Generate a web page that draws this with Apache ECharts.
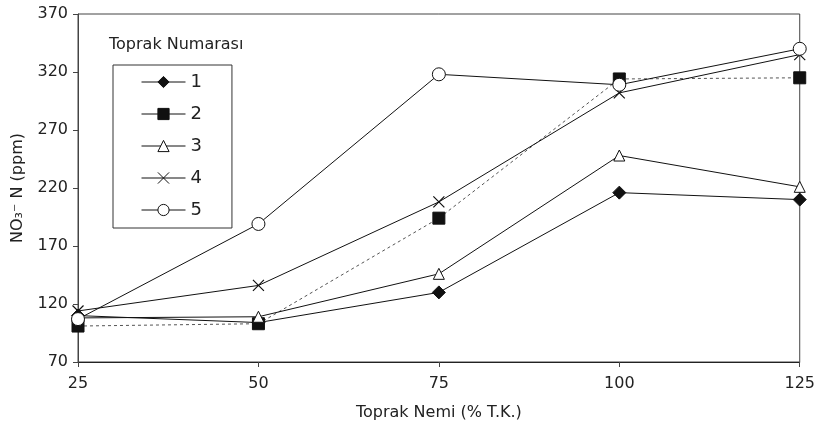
<!DOCTYPE html>
<html>
<head>
<meta charset="utf-8">
<script src="https://cdn.jsdelivr.net/npm/echarts@6/dist/echarts.min.js"></script>
<style>
  html, body { margin: 0; padding: 0; background: #fff; }
  #chart { width: 818px; height: 432px; }
</style>
</head>
<body>
<div id="chart"></div>
<script>
var nemi = [25, 50, 75, 100, 125];
var toprak1 = [110, 104, 130, 216, 210];
var toprak2 = [101, 103, 194, 314, 315];
var toprak3 = [108, 109, 146, 248, 221];
var toprak4 = [114, 136, 208, 302, 335];
var toprak5 = [107, 189, 318, 309, 340];
var names = ['1', '2', '3', '4', '5'];

var chartDom = document.getElementById('chart');
var chart = echarts.init(chartDom);
var font = 'DejaVu Sans';

function pairs(vals) {
    return vals.map(function (v, i) { return [nemi[i], v]; });
}

function line(name, vals, symbol, size, opts) {
    var s = {
        name: name,
        type: 'line',
        data: pairs(vals),
        symbol: symbol,
        symbolSize: size,
        showAllSymbol: true,
        animation: false,
        lineStyle: { color: '#111', width: 1 },
        itemStyle: { color: '#111', borderColor: '#111', borderWidth: 1 }
    };
    return Object.assign(s, opts || {});
}

var hollow = { color: '#fff', borderColor: '#111', borderWidth: 1 };

var option = {
    backgroundColor: '#fff',
    textStyle: { fontFamily: font },
    title: {
        text: 'Toprak Numarası',
        left: 104,
        top: 32,
        textStyle: { fontFamily: font, fontSize: 16, fontWeight: 'normal', color: '#222' }
    },
    legend: {
        orient: 'vertical',
        left: 113,
        top: 65,
        width: 108,
        padding: [8, 30, 9, 28],
        itemGap: 14,
        itemWidth: 44,
        itemHeight: 14,
        borderColor: '#333',
        borderWidth: 1,
        lineStyle: { width: 1, type: 'solid', color: '#111' },
        itemStyle: { borderWidth: 1 },
        textStyle: { fontFamily: font, fontSize: 18, color: '#222' },
        data: names
    },
    grid: {
        left: 78, right: 10, top: 14, bottom: 70,
        show: true, borderColor: '#444', borderWidth: 1
    },
    xAxis: {
        type: 'value',
        min: 25, max: 125, interval: 25,
        name: 'Toprak Nemi (% T.K.)',
        nameLocation: 'middle',
        nameGap: 43,
        nameTextStyle: { fontFamily: font, fontSize: 16, color: '#222' },
        axisLine: { lineStyle: { color: '#222' } },
        axisTick: { length: 5, lineStyle: { color: '#444' } },
        axisLabel: { fontFamily: font, fontSize: 16, color: '#222', margin: 14 },
        splitLine: { show: false }
    },
    yAxis: {
        type: 'value',
        min: 70, max: 370, interval: 50,
        name: 'NO₃⁻ N (ppm)',
        nameLocation: 'middle',
        nameGap: 52,
        nameTextStyle: { fontFamily: font, fontSize: 16, color: '#222' },
        axisLine: { show: true, lineStyle: { color: '#444' } },
        axisTick: { show: true, length: 5, lineStyle: { color: '#444' } },
        axisLabel: { fontFamily: font, fontSize: 16, color: '#222', margin: 10 },
        splitLine: { show: false }
    },
    series: [
        line('1', toprak1, 'diamond', 13),
        line('2', toprak2, 'rect', 12, {
            lineStyle: { color: '#555', width: 1, type: [3, 3] }
        }),
        line('3', toprak3, 'triangle', 11, { itemStyle: hollow }),
        line('4', toprak4, 'path://M0,0L10,10M10,0L0,10', 11, {
            itemStyle: { color: 'none', borderColor: '#111', borderWidth: 1.2 }
        }),
        line('5', toprak5, 'circle', 13, { itemStyle: hollow })
    ]
};

option && chart.setOption(option);

window.addEventListener('resize', function () {
    chart.resize();
});
</script>
</body>
</html>
